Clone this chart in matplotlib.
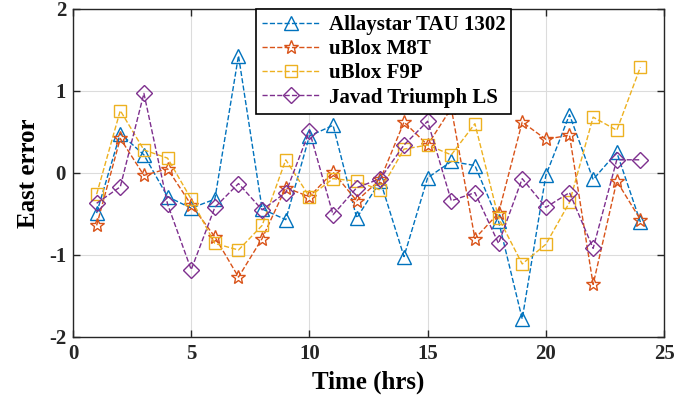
import matplotlib.pyplot as plt

plt.rcParams['font.family'] = ['Liberation Serif', 'DejaVu Serif']
plt.rcParams['font.weight'] = 'bold'
plt.rcParams['axes.unicode_minus'] = False

# 시간 (시간 단위)
hours = list(range(1, 25))

allaystar = [-0.49, 0.48, 0.22, -0.29, -0.43, -0.32, 1.43, -0.44, -0.57, 0.45, 0.58, -0.55,
             -0.10, -1.02, -0.06, 0.14, 0.09, -0.59, -1.78, -0.03, 0.71, -0.08, 0.25, -0.60]
m8t = [-0.64, 0.42, -0.03, 0.05, -0.39, -0.78, -1.27, -0.80, -0.18, -0.29, 0.01, -0.34,
       -0.08, 0.62, 0.34, 0.79, -0.80, -0.49, 0.62, 0.41, 0.46, -1.36, -0.10, -0.57]
f9p = [-0.26, 0.76, 0.28, 0.18, -0.32, -0.86, -0.94, -0.64, 0.16, -0.29, -0.07, -0.10,
       -0.21, 0.29, 0.34, 0.22, 0.60, -0.55, -1.11, -0.87, -0.36, 0.68, 0.52, 1.29]
javad = [-0.37, -0.17, 0.97, -0.38, -1.18, -0.42, -0.13, -0.45, -0.24, 0.51, -0.51, -0.18,
         -0.07, 0.34, 0.63, -0.34, -0.24, -0.86, -0.07, -0.42, -0.24, -0.92, 0.16, 0.16]

labels = ["Allaystar TAU 1302", "uBlox M8T", "uBlox F9P", "Javad Triumph LS"]
colors = ["#0072BD", "#D95319", "#EDB120", "#7E2F8E"]
markers = ["^", "*", "s", "D"]
msizes = [10, 10, 8, 8]

fig = plt.figure(figsize=(6.79, 4.04), dpi=100)
ax = fig.add_axes([0.1075, 0.166, 0.8705, 0.812])

for y, lab, c, m, ms in zip([allaystar, m8t, f9p, javad], labels, colors, markers, msizes):
    ax.plot(hours, y, linestyle='--', color=c, marker=m, markersize=ms,
            markerfacecolor='none', markeredgewidth=1.0, linewidth=1.0, label=lab)

ax.set_xlim(0, 25)
ax.set_ylim(-2, 2)
ax.set_xticks([0, 5, 10, 15, 20, 25])
ax.set_yticks([-2, -1, 0, 1, 2])
ax.grid(True, color='#dcdcdc', linewidth=0.8)
ax.set_axisbelow(True)
ax.tick_params(direction='in', top=True, right=True, labelsize=15, length=5, width=1,
               colors='#262626', pad=5)
for s in ax.spines.values():
    s.set_color('#262626')
    s.set_linewidth(1)

ax.set_xlabel("Time (hrs)", fontsize=18, fontweight='bold', labelpad=5)
ax.set_ylabel("East error", fontsize=18, fontweight='bold', labelpad=6)

leg = ax.legend(loc='upper left', bbox_to_anchor=(0.309, 1.0), fontsize=15,
                frameon=True, fancybox=False, edgecolor='black', framealpha=1,
                borderpad=0.3, labelspacing=0.2, handlelength=2.8, handletextpad=0.4,
                borderaxespad=0)
leg.get_frame().set_linewidth(1.2)

fig.savefig("out.png", dpi=100)
